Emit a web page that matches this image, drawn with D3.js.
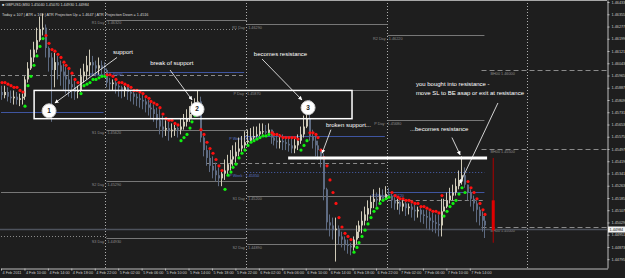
<!DOCTYPE html>
<html>
<head>
<meta charset="utf-8">
<script src="https://cdn.jsdelivr.net/npm/d3@7"></script>
<style>
  html, body { margin: 0; padding: 0; background: #1e1e1e; }
  svg { display: block; }
  text { font-family: "Liberation Sans", Arial, sans-serif; }
</style>
</head>
<body>
<div id="viz"></div>
<script>
// ---- chart values ----
const symbol = "GBPUSD,M30";
const headerQuote = [1.45040, 1.45070, 1.44930, 1.44984];
const headerStats = "Today = 107  |  ATR = 169  |  ATR Projection Up = 1.4647  |  ATR Projection Down = 1.4516";

// M30 bars, index 0 = 4 Feb 06:00
const firstOpen = 1.4586;
const closes = [
  1.4584, 1.4586, 1.4583, 1.4582, 1.4583, 1.4581, 1.4582, 1.4583, 1.4594, 1.4601,
  1.4608, 1.4613, 1.4619, 1.4626, 1.4627, 1.4614, 1.4608, 1.4600, 1.4605, 1.4603,
  1.4599, 1.4596, 1.4594, 1.4591, 1.4589, 1.4586, 1.4587, 1.4596, 1.4599, 1.4603,
  1.4605, 1.4603, 1.4601, 1.4603, 1.4601, 1.4600, 1.4592, 1.4591, 1.4592, 1.4590,
  1.4589, 1.4587, 1.4589, 1.4586, 1.4585, 1.4583, 1.4582, 1.4581, 1.4580, 1.4578,
  1.4576, 1.4575, 1.4572, 1.4568, 1.4564, 1.4562, 1.4563, 1.4561, 1.4562, 1.4563,
  1.4562, 1.4564, 1.4567, 1.4569, 1.4572, 1.4575, 1.4577, 1.4580, 1.4557, 1.4549,
  1.4544, 1.4539, 1.4536, 1.4533, 1.4531, 1.4534, 1.4536, 1.4540, 1.4543, 1.4545,
  1.4548, 1.4550, 1.4552, 1.4554, 1.4555, 1.4557, 1.4558, 1.4559, 1.4561, 1.4561,
  1.4560, 1.4562, 1.4557, 1.4555, 1.4554, 1.4555, 1.4554, 1.4553, 1.4552, 1.4550,
  1.4552, 1.4555, 1.4559, 1.4564, 1.4569, 1.4558, 1.4555, 1.4552, 1.4549, 1.4545,
  1.4524, 1.4503, 1.4501, 1.4498, 1.4499, 1.4494, 1.4492, 1.4489, 1.4488, 1.4487,
  1.4492, 1.4497, 1.4501, 1.4504, 1.4508, 1.4512, 1.4516, 1.4518, 1.4517, 1.4520,
  1.4518, 1.4521, 1.4520, 1.4517, 1.4515, 1.4516, 1.4513, 1.4515, 1.4512, 1.4513,
  1.4511, 1.4510, 1.4511, 1.4508, 1.4507, 1.4506, 1.4504, 1.4503, 1.4502, 1.4501,
  1.4510, 1.4513, 1.4517, 1.4520, 1.4522, 1.4526, 1.4530, 1.4533, 1.4527, 1.4522,
  1.4518, 1.4515, 1.4511, 1.4507, 1.4504, 1.4501
];
const highs = [
  1.4590, 1.4590, 1.4589, 1.4587, 1.4587, 1.4586, 1.4585, 1.4585, 1.4596, 1.4605,
  1.4613, 1.4618, 1.4627, 1.4634, 1.4636, 1.4629, 1.4615, 1.4611, 1.4611, 1.4609,
  1.4606, 1.4604, 1.4602, 1.4600, 1.4597, 1.4593, 1.4590, 1.4601, 1.4604, 1.4609,
  1.4613, 1.4609, 1.4606, 1.4608, 1.4606, 1.4605, 1.4601, 1.4595, 1.4594, 1.4594,
  1.4591, 1.4590, 1.4590, 1.4590, 1.4587, 1.4586, 1.4585, 1.4585, 1.4584, 1.4582,
  1.4581, 1.4579, 1.4578, 1.4576, 1.4575, 1.4571, 1.4568, 1.4567, 1.4566, 1.4565,
  1.4564, 1.4569, 1.4572, 1.4575, 1.4577, 1.4580, 1.4582, 1.4587, 1.4583, 1.4558,
  1.4552, 1.4549, 1.4545, 1.4541, 1.4538, 1.4535, 1.4543, 1.4546, 1.4549, 1.4552,
  1.4554, 1.4557, 1.4558, 1.4561, 1.4562, 1.4563, 1.4564, 1.4564, 1.4566, 1.4566,
  1.4565, 1.4566, 1.4562, 1.4561, 1.4559, 1.4559, 1.4559, 1.4558, 1.4557, 1.4557,
  1.4556, 1.4559, 1.4564, 1.4571, 1.4578, 1.4581, 1.4562, 1.4558, 1.4555, 1.4550,
  1.4547, 1.4525, 1.4508, 1.4506, 1.4506, 1.4501, 1.4497, 1.4494, 1.4492, 1.4490,
  1.4494, 1.4501, 1.4504, 1.4510, 1.4513, 1.4517, 1.4520, 1.4524, 1.4522, 1.4525,
  1.4524, 1.4526, 1.4525, 1.4521, 1.4519, 1.4518, 1.4517, 1.4517, 1.4516, 1.4515,
  1.4515, 1.4514, 1.4513, 1.4512, 1.4511, 1.4511, 1.4510, 1.4509, 1.4508, 1.4508,
  1.4518, 1.4518, 1.4522, 1.4525, 1.4527, 1.4531, 1.4536, 1.4545, 1.4538, 1.4527,
  1.4524, 1.4520, 1.4517, 1.4513, 1.4510, 1.4507
];
const lows = [
  1.4581, 1.4582, 1.4580, 1.4579, 1.4578, 1.4578, 1.4577, 1.4578, 1.4581, 1.4592,
  1.4600, 1.4605, 1.4611, 1.4618, 1.4622, 1.4608, 1.4599, 1.4567, 1.4589, 1.4594,
  1.4590, 1.4587, 1.4585, 1.4583, 1.4582, 1.4581, 1.4582, 1.4586, 1.4592, 1.4594,
  1.4596, 1.4596, 1.4596, 1.4597, 1.4597, 1.4597, 1.4589, 1.4587, 1.4587, 1.4585,
  1.4583, 1.4582, 1.4583, 1.4581, 1.4580, 1.4578, 1.4577, 1.4576, 1.4575, 1.4573,
  1.4571, 1.4569, 1.4567, 1.4563, 1.4559, 1.4557, 1.4558, 1.4555, 1.4557, 1.4558,
  1.4557, 1.4559, 1.4562, 1.4564, 1.4567, 1.4569, 1.4572, 1.4575, 1.4554, 1.4545,
  1.4539, 1.4535, 1.4531, 1.4529, 1.4526, 1.4526, 1.4530, 1.4533, 1.4536, 1.4539,
  1.4541, 1.4545, 1.4548, 1.4550, 1.4552, 1.4554, 1.4555, 1.4557, 1.4558, 1.4559,
  1.4559, 1.4559, 1.4553, 1.4552, 1.4550, 1.4550, 1.4549, 1.4549, 1.4548, 1.4547,
  1.4547, 1.4549, 1.4553, 1.4557, 1.4563, 1.4555, 1.4550, 1.4545, 1.4543, 1.4538,
  1.4517, 1.4498, 1.4494, 1.4492, 1.4478, 1.4489, 1.4487, 1.4485, 1.4483, 1.4482,
  1.4485, 1.4489, 1.4493, 1.4496, 1.4501, 1.4504, 1.4508, 1.4512, 1.4513, 1.4516,
  1.4517, 1.4518, 1.4519, 1.4512, 1.4511, 1.4511, 1.4508, 1.4510, 1.4507, 1.4508,
  1.4506, 1.4504, 1.4506, 1.4503, 1.4502, 1.4499, 1.4498, 1.4497, 1.4496, 1.4494,
  1.4494, 1.4510, 1.4512, 1.4515, 1.4517, 1.4520, 1.4524, 1.4527, 1.4525, 1.4517,
  1.4513, 1.4510, 1.4503, 1.4501, 1.4497, 1.4493
];
// parabolic SAR, one dot per bar
const sar = [
  1.4592, 1.4592, 1.4591, 1.4590, 1.4589, 1.4589, 1.4587, 1.4586, 1.4577, 1.4590,
  1.4596, 1.4603, 1.4609, 1.4615, 1.4620, 1.4622, 1.4617, 1.4613, 1.4612, 1.4610,
  1.4608, 1.4605, 1.4603, 1.4601, 1.4598, 1.4594, 1.4592, 1.4585, 1.4590, 1.4591,
  1.4592, 1.4594, 1.4594, 1.4595, 1.4596, 1.4596, 1.4597, 1.4597, 1.4596, 1.4594,
  1.4592, 1.4592, 1.4591, 1.4590, 1.4589, 1.4587, 1.4587, 1.4586, 1.4585, 1.4583,
  1.4582, 1.4580, 1.4579, 1.4578, 1.4576, 1.4572, 1.4569, 1.4568, 1.4568, 1.4566,
  1.4565, 1.4555, 1.4557, 1.4559, 1.4563, 1.4567, 1.4571, 1.4573, 1.4562, 1.4559,
  1.4554, 1.4550, 1.4547, 1.4543, 1.4539, 1.4536, 1.4524, 1.4533, 1.4535, 1.4538,
  1.4540, 1.4544, 1.4547, 1.4549, 1.4552, 1.4554, 1.4555, 1.4556, 1.4557, 1.4558,
  1.4558, 1.4559, 1.4560, 1.4559, 1.4559, 1.4558, 1.4557, 1.4557, 1.4557, 1.4557,
  1.4557, 1.4556, 1.4549, 1.4552, 1.4555, 1.4560, 1.4560, 1.4559, 1.4557, 1.4549,
  1.4544, 1.4539, 1.4530, 1.4522, 1.4515, 1.4506, 1.4500, 1.4496, 1.4494, 1.4492,
  1.4484, 1.4487, 1.4490, 1.4494, 1.4498, 1.4502, 1.4506, 1.4510, 1.4512, 1.4515,
  1.4517, 1.4518, 1.4519, 1.4522, 1.4520, 1.4519, 1.4518, 1.4518, 1.4517, 1.4517,
  1.4516, 1.4515, 1.4515, 1.4513, 1.4513, 1.4512, 1.4511, 1.4510, 1.4510, 1.4509,
  1.4520, 1.4507, 1.4510, 1.4513, 1.4515, 1.4517, 1.4521, 1.4525, 1.4522, 1.4529,
  1.4525, 1.4522, 1.4518, 1.4515, 1.4511, 1.4508
];
// ATR projection bar drawn ahead of the last candle
const projBar = 168;
const projOHLC = [1.4517, 1.4544, 1.4490, 1.4498];
const bid = 1.44984;

// day separators (bar index of 00:00)
const dayStarts = [36, 84, 132, 180];

// pivot / level lines
const levelNames  = ["", "", "", "", "", "R1 Day", "S1 Day", "S2 Day", "S3 Day", "R1 Day", "P Day", "S1 Day", "S2 Day", "R2 Day", "P Day", "R1 Week", "P Week", "", "P Week", "S1 Week", "", "BH00", "BH00", "BH00"];
const levelPrices = [1.4626, 1.4597, 1.4573, 1.4522, 1.4494, 1.4632, 1.4562, 1.4529, 1.4493, 1.4629, 1.4587, 1.4520, 1.4489, 1.4622, 1.4568, 1.4599, 1.4558, 1.4541, 1.4535, 1.4522, 1.4517, 1.4600, 1.4550, 1.4500];
const levelFrom   = [0, 0, 0, 0, 0, 36, 36, 36, 36, 84, 84, 84, 84, 132, 132, 36, 83, 70, 83, 132, 132, 164, 164, 164];
const levelTo     = [81, 83, 35, 36, 36, 84, 84, 84, 84, 132, 132, 132, 132, 165, 165, 83, 131, 131, 165, 165, 165, 207, 207, 207];
const levelKinds  = ["dot", "mid", "week", "day", "dot", "day", "day", "day", "day", "day", "day", "day", "day", "day", "day", "week", "week", "mid", "weekdot", "week", "mid", "round", "round", "round"];

// axis ticks
const priceTicks = [1.46433, 1.46355, 1.46277, 1.46199, 1.46121, 1.46043, 1.45965, 1.45887, 1.45809, 1.45731, 1.45653, 1.45575,
  1.45497, 1.45419, 1.45341, 1.45263, 1.45185, 1.45107, 1.45029, 1.44951, 1.44873, 1.44795];
const timeTicks = [0, 8, 16, 24, 32, 40, 48, 56, 64, 72, 80, 88, 96, 104, 112, 120, 128, 136, 144, 152, 160];
const timeLabels = ["4 Feb 2011", "4 Feb 10:00", "4 Feb 14:00", "4 Feb 18:00", "4 Feb 22:00", "5 Feb 02:00", "5 Feb 06:00",
  "5 Feb 10:00", "5 Feb 14:00", "5 Feb 18:00", "5 Feb 22:00", "6 Feb 02:00", "6 Feb 06:00", "6 Feb 10:00", "6 Feb 14:00",
  "6 Feb 18:00", "6 Feb 22:00", "7 Feb 02:00", "7 Feb 06:00", "7 Feb 10:00", "7 Feb 14:00"];

// hand drawn annotations, in bar / price coordinates
const noteTexts  = ["support", "break of support", "becomes resistance", "broken support...", "...becomes resistance",
  "you bought into resistance  -", "move SL to BE asap or exit at resistance"];
const noteBars   = [38.2, 50.9, 86.3, 110.9, 139.6, 141.6, 141.6];
const notePrices = [1.4610, 1.4603, 1.4609, 1.4564, 1.4561, 1.4590, 1.4584];
const circleLabels = ["1", "2", "3"];
const circleBars   = [16.4, 66.9, 104.8];
const circlePrices = [1.4574, 1.4575, 1.4576];
const boxBars   = [11.3, 119.8];
const boxPrices = [1.4587, 1.4569];
const resBarBars  = [98, 165.9];
const resBarPrice = 1.4544;
const arrowFromBars   = [39.6, 57.7, 89.1, 112.6, 153.9, 169.6];
const arrowFromPrices = [1.4608, 1.4600, 1.4607, 1.4562, 1.4557, 1.4579];
const arrowToBars     = [18.4, 65.2, 102.7, 109.6, 156.7, 156.7];
const arrowToPrices   = [1.4579, 1.4581, 1.4581, 1.4547, 1.4546, 1.4528];

// ---- drawing ----
let w = 625;
let h = 278;
let plotRight = 607;
let plotBottom = 268;
let nSlots = 207;

const svg = d3.select("#viz")
  .append("svg")
  .attr("width", w)
  .attr("height", h);

svg.append("rect")
  .attr("width", w)
  .attr("height", h)
  .attr("fill", "#1e1e1e");

const xScale = d3.scaleLinear()
  .domain([0, nSlots])
  .range([1, 1 + 2.93 * nSlots]);

const yScale = d3.scaleLinear()
  .domain([1.44739, 1.46446])
  .range([plotBottom, 0]);

svg.append("defs").append("clipPath")
  .attr("id", "plotClip")
  .append("rect")
  .attr("width", plotRight)
  .attr("height", plotBottom);

svg.select("defs").append("marker")
  .attr("id", "arrow")
  .attr("viewBox", "0 0 10 10")
  .attr("refX", 9)
  .attr("refY", 5)
  .attr("markerWidth", 5)
  .attr("markerHeight", 5)
  .attr("orient", "auto")
  .append("path")
  .attr("d", "M0,0L10,5L0,10z")
  .attr("fill", "white");

const plot = svg.append("g").attr("clip-path", "url(#plotClip)");

// top border
svg.append("line")
  .attr("x1", 0).attr("x2", plotRight)
  .attr("y1", 0.5).attr("y2", 0.5)
  .attr("stroke", "#a8a8a8");

// day separators
plot.append("g").selectAll("line")
  .data(dayStarts)
  .enter()
  .append("line")
  .attr("x1", d => Math.round(xScale(d)) - 0.5)
  .attr("x2", d => Math.round(xScale(d)) - 0.5)
  .attr("y1", 0)
  .attr("y2", plotBottom)
  .attr("stroke", "#b0b0b0")
  .attr("stroke-dasharray", "1,2");

// level lines
let levelStyle = {
  day:     {stroke: "#777777", dash: null,  label: "#8c8c8c"},
  dot:     {stroke: "#8a8a8a", dash: "1,2", label: "#8c8c8c"},
  mid:     {stroke: "#8a8a8a", dash: "4,3", label: "#8c8c8c"},
  week:    {stroke: "#3f55a0", dash: null,  label: "#5b74c8"},
  weekdot: {stroke: "#4a62b0", dash: "1,2", label: "#5b74c8"},
  round:   {stroke: "#8a8a8a", dash: "5,3", label: "#8c8c8c"}
};
let levels = levelNames.map((n, k) => ({
  name: n, price: levelPrices[k], from: levelFrom[k], to: levelTo[k], kind: levelKinds[k]
}));

let levelGroup = plot.append("g");
levelGroup.selectAll("line")
  .data(levels)
  .enter()
  .append("line")
  .attr("x1", d => xScale(d.from))
  .attr("x2", d => xScale(d.to))
  .attr("y1", d => Math.round(yScale(d.price)) + 0.5)
  .attr("y2", d => Math.round(yScale(d.price)) + 0.5)
  .attr("stroke", d => levelStyle[d.kind].stroke)
  .attr("stroke-dasharray", d => levelStyle[d.kind].dash);

levelGroup.selectAll("text")
  .data(levels.filter(d => d.name !== ""))
  .enter()
  .append("text")
  .attr("x", d => d.kind === "round" ? xScale(d.from) + 9 : xScale(d.from))
  .attr("y", d => yScale(d.price) + 4.5)
  .attr("text-anchor", d => d.kind === "round" ? "start" : "middle")
  .attr("font-size", 3.8)
  .attr("fill", d => levelStyle[d.kind].label)
  .text(d => d.kind === "round" ? d.name + " " + d.price.toFixed(5) : d.name + " : " + d.price.toFixed(5));

// bid line
plot.append("line")
  .attr("x1", 0).attr("x2", plotRight)
  .attr("y1", yScale(bid)).attr("y2", yScale(bid))
  .attr("stroke", "#4d525c")
  .attr("stroke-width", 1.5);

// candles
let bars = closes.map((c, i) => {
  let o = i === 0 ? firstOpen : closes[i - 1];
  return {i: i, o: o, c: c, hi: Math.max(highs[i], o, c), lo: Math.min(lows[i], o, c)};
});
let upColor = "#cfcab8";
let downColor = "#5e6b82";

let candleGroup = plot.append("g");
candleGroup.selectAll("line")
  .data(bars)
  .enter()
  .append("line")
  .attr("x1", d => Math.round(xScale(d.i)) + 0.5)
  .attr("x2", d => Math.round(xScale(d.i)) + 0.5)
  .attr("y1", d => yScale(d.hi))
  .attr("y2", d => yScale(d.lo))
  .attr("stroke", d => d.c >= d.o ? upColor : downColor)
  .attr("stroke-width", 1);

candleGroup.selectAll("rect")
  .data(bars)
  .enter()
  .append("rect")
  .attr("x", d => Math.round(xScale(d.i)))
  .attr("width", 2)
  .attr("y", d => yScale(Math.max(d.o, d.c)))
  .attr("height", d => Math.max(1, Math.abs(yScale(d.o) - yScale(d.c))))
  .attr("fill", d => d.c >= d.o ? upColor : downColor);

// ATR projection bar
plot.append("line")
  .attr("x1", xScale(projBar)).attr("x2", xScale(projBar))
  .attr("y1", yScale(projOHLC[1])).attr("y2", yScale(projOHLC[2]))
  .attr("stroke", "#b00000");
plot.append("rect")
  .attr("x", xScale(projBar) - 1.5)
  .attr("width", 3)
  .attr("y", yScale(projOHLC[0]))
  .attr("height", yScale(projOHLC[3]) - yScale(projOHLC[0]))
  .attr("fill", "#e00000");

// parabolic SAR
plot.append("g").selectAll("circle")
  .data(sar)
  .enter()
  .append("circle")
  .attr("cx", (d, i) => Math.round(xScale(i)) + 1)
  .attr("cy", d => yScale(d))
  .attr("r", 1.6)
  .attr("fill", (d, i) => d > closes[i] ? "#ff1010" : "#10f010");

// annotations
let notes = plot.append("g");

notes.append("rect")
  .attr("x", xScale(boxBars[0]))
  .attr("y", yScale(boxPrices[0]))
  .attr("width", xScale(boxBars[1]) - xScale(boxBars[0]))
  .attr("height", yScale(boxPrices[1]) - yScale(boxPrices[0]))
  .attr("fill", "none")
  .attr("stroke", "white")
  .attr("stroke-width", 1.5);

notes.append("line")
  .attr("x1", xScale(resBarBars[0])).attr("x2", xScale(resBarBars[1]))
  .attr("y1", yScale(resBarPrice)).attr("y2", yScale(resBarPrice))
  .attr("stroke", "white")
  .attr("stroke-width", 3);

notes.selectAll("line.arrow")
  .data(arrowFromBars)
  .enter()
  .append("line")
  .attr("class", "arrow")
  .attr("x1", d => xScale(d))
  .attr("y1", (d, k) => yScale(arrowFromPrices[k]))
  .attr("x2", (d, k) => xScale(arrowToBars[k]))
  .attr("y2", (d, k) => yScale(arrowToPrices[k]))
  .attr("stroke", "white")
  .attr("stroke-width", 0.8)
  .attr("marker-end", "url(#arrow)");

notes.selectAll("text.note")
  .data(noteTexts)
  .enter()
  .append("text")
  .attr("class", "note")
  .attr("x", (d, k) => xScale(noteBars[k]))
  .attr("y", (d, k) => yScale(notePrices[k]))
  .attr("font-size", 6)
  .attr("fill", "white")
  .text(d => d);

let circles = notes.selectAll("g.num")
  .data(circleLabels)
  .enter()
  .append("g")
  .attr("class", "num")
  .attr("transform", (d, k) => `translate(${xScale(circleBars[k])},${yScale(circlePrices[k])})`);
circles.append("circle")
  .attr("r", 7)
  .attr("fill", "white")
  .attr("stroke", "#d0d0d0");
circles.append("text")
  .attr("y", 2.2)
  .attr("text-anchor", "middle")
  .attr("font-size", 6.5)
  .attr("font-weight", "bold")
  .attr("fill", "#222")
  .text(d => d);

// header
svg.append("text")
  .attr("x", 2).attr("y", 5.5)
  .attr("font-size", 3.8)
  .attr("fill", "#d8d8d8")
  .text("\u25A0 " + symbol + "  " + headerQuote.map(d => d.toFixed(5)).join(" "));
svg.append("text")
  .attr("x", 2).attr("y", 16)
  .attr("font-size", 3.8)
  .attr("fill", "#d8d8d8")
  .text(headerStats);

// price axis
let yAxis = d3.axisRight(yScale)
  .tickValues(priceTicks)
  .tickFormat(d3.format(".5f"))
  .tickSizeInner(2)
  .tickSizeOuter(0)
  .tickPadding(2);
let yAxisGroup = svg.append("g")
  .attr("transform", `translate(${plotRight + 0.5},0)`)
  .call(yAxis);
yAxisGroup.select(".domain").attr("stroke", "#bdbdbd");
yAxisGroup.selectAll(".tick line").attr("stroke", "#bdbdbd");
yAxisGroup.selectAll("text")
  .attr("font-size", 3.8)
  .attr("fill", "#c8c8c8");

// bid box on the axis
svg.append("rect")
  .attr("x", plotRight + 1)
  .attr("y", yScale(bid) - 3)
  .attr("width", 17)
  .attr("height", 6)
  .attr("fill", "#f2f2f2");
svg.append("text")
  .attr("x", plotRight + 2.5)
  .attr("y", yScale(bid) + 1.5)
  .attr("font-size", 3.8)
  .attr("fill", "#111")
  .text(bid.toFixed(5));

// time axis
let xAxis = d3.axisBottom(xScale)
  .tickValues(timeTicks)
  .tickFormat((d, k) => timeLabels[k])
  .tickSizeInner(2)
  .tickSizeOuter(0)
  .tickPadding(1);
let xAxisGroup = svg.append("g")
  .attr("transform", `translate(0,${plotBottom + 0.5})`)
  .call(xAxis);
xAxisGroup.select(".domain").attr("stroke", "#bdbdbd");
xAxisGroup.selectAll(".tick line").attr("stroke", "#bdbdbd");
xAxisGroup.selectAll("text")
  .attr("font-size", 3.8)
  .attr("fill", "#c8c8c8")
  .attr("text-anchor", "start")
  .attr("dx", 1);
</script>
</body>
</html>
